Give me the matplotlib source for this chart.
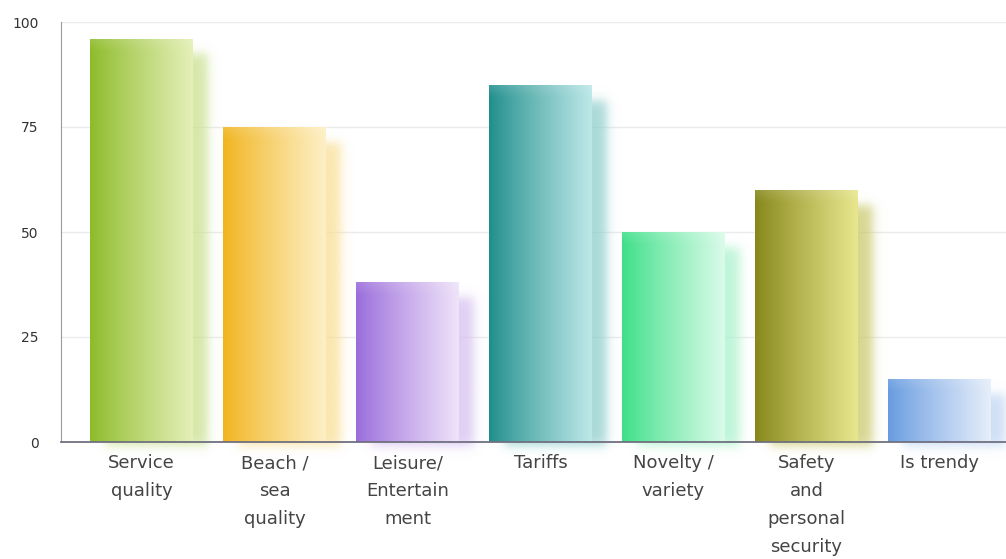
import numpy as np
import matplotlib.pyplot as plt
from matplotlib.colors import to_rgb

# chart data
categories = ["Service\nquality", "Beach /\nsea\nquality", "Leisure/\nEntertain\nment",
              "Tariffs", "Novelty /\nvariety", "Safety\nand\npersonal\nsecurity", "Is trendy"]
values = [96, 75, 38, 85, 50, 60, 15]
y_ticks = [0, 25, 50, 75, 100]

# gradient colours, left (dark) -> right (light)
dark_colors = ["#8dbb29", "#f1b41e", "#9a6cdb", "#1f8e8b", "#3ddf88", "#86861a", "#679be0"]
light_colors = ["#e4f0b8", "#fdf0c6", "#efe3f9", "#bde8e8", "#dafbe9", "#e8e78e", "#e6eefa"]

fig = plt.figure(figsize=(10.06, 5.59), dpi=100)
ax = fig.add_axes([61 / 1006, 117 / 559, 945 / 1006, 420 / 559])

x = np.arange(len(categories))
bars = ax.bar(x, values, width=0.774, color="none", edgecolor="none", zorder=3)
ax.set_xlim(-0.605, 6.5)
ax.set_ylim(0, 100)

# data units per pixel
px_x = 1 / 133.0
px_y = 1 / 4.2


def smooth_box(u, a, b, s):
    return 0.25 * (1 + np.tanh((u - a) / s)) * (1 + np.tanh((b - u) / s))


for bar, c0, c1 in zip(bars, dark_colors, light_colors):
    x0 = bar.get_x()
    w = bar.get_width()
    h = bar.get_height()
    c0 = np.array(to_rgb(c0))
    c1 = np.array(to_rgb(c1))

    # soft shadow, shifted right and down
    sx0, sx1 = x0 + 15 * px_x, x0 + w + 15 * px_x
    sy0, sy1 = -4 * px_y, h - 15 * px_y
    ex = (sx0 - 25 * px_x, sx1 + 25 * px_x, sy0 - 25 * px_y, sy1 + 25 * px_y)
    gx = np.linspace(ex[0], ex[1], 200)
    gy = np.linspace(ex[2], ex[3], 300)
    ax_ = smooth_box(gx / px_x, sx0 / px_x, sx1 / px_x, 6)
    ay_ = smooth_box(gy / px_y, sy0 / px_y, sy1 / px_y, 6)
    alpha = np.outer(ay_, ax_) * 0.75
    sc = 0.3 * c0 + 0.7 * c1
    shadow = np.zeros((len(gy), len(gx), 4))
    shadow[..., :3] = sc
    shadow[..., 3] = alpha
    ax.imshow(shadow, extent=ex, origin="lower", aspect="auto",
              interpolation="bilinear", zorder=1, clip_on=False)

    # horizontal gradient with a faint light strip at the top
    t = np.linspace(0, 1, 256) ** 0.9
    yy = np.linspace(0, h, 200)
    img = c0[None, None, :] * (1 - t)[None, :, None] + c1[None, None, :] * t[None, :, None]
    img = np.repeat(img, len(yy), axis=0)
    top = np.clip(1 - (h - yy) / (12 * px_y), 0, 1) * 0.12
    img = img * (1 - top)[:, None, None] + top[:, None, None]
    im = ax.imshow(img, extent=(x0, x0 + w, 0, h), origin="lower", aspect="auto",
                   interpolation="bilinear", zorder=3)
    im.set_clip_path(bar)

ax.set_yticks(y_ticks)
ax.set_xticks(x)
ax.set_xticklabels(categories)
ax.grid(axis="y", color="#ebebeb", linewidth=1, zorder=0)
ax.set_axisbelow(True)

for side in ["top", "right"]:
    ax.spines[side].set_visible(False)
ax.spines["left"].set_color("#9a9a9a")
ax.spines["bottom"].set_color("#707080")
ax.spines["bottom"].set_linewidth(1.3)
ax.spines["left"].set_zorder(5)
ax.spines["bottom"].set_zorder(5)

ax.tick_params(axis="y", length=0, pad=16, labelsize=10, labelcolor="#333333")
ax.tick_params(axis="x", length=0, pad=9, labelsize=13, labelcolor="#444444")
for lab in ax.get_xticklabels():
    lab.set_linespacing(1.7)

fig.savefig("out.png", dpi=100)
